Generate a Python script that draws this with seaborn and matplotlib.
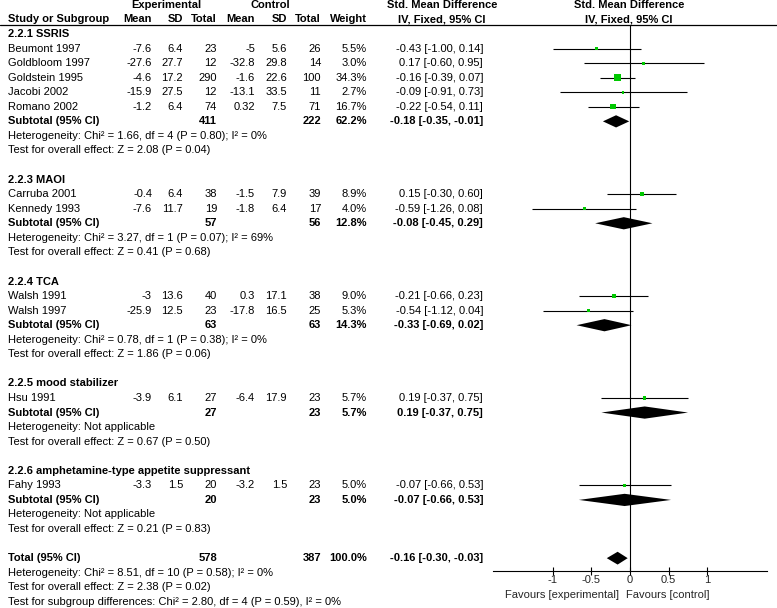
import matplotlib
matplotlib.use("Agg")
import matplotlib.pyplot as plt
import matplotlib.transforms as mtrans
import seaborn as sns
import pandas as pd

# forest plot of std. mean differences, fixed effect
studies = ["Beumont 1997", "Goldbloom 1997", "Goldstein 1995", "Jacobi 2002", "Romano 2002",
           "Carruba 2001", "Kennedy 1993", "Walsh 1991", "Walsh 1997", "Hsu 1991", "Fahy 1993"]
group_of = [0, 0, 0, 0, 0, 1, 1, 2, 2, 3, 4]
exp_mean = [-7.6, -27.6, -4.6, -15.9, -1.2, -0.4, -7.6, -3, -25.9, -3.9, -3.3]
exp_sd = [6.4, 27.7, 17.2, 27.5, 6.4, 6.4, 11.7, 13.6, 12.5, 6.1, 1.5]
exp_n = [23, 12, 290, 12, 74, 38, 19, 40, 23, 27, 20]
ctl_mean = [-5, -32.8, -1.6, -13.1, 0.32, -1.5, -1.8, 0.3, -17.8, -6.4, -3.2]
ctl_sd = [5.6, 29.8, 22.6, 33.5, 7.5, 7.9, 6.4, 17.1, 16.5, 17.9, 1.5]
ctl_n = [26, 14, 100, 11, 71, 39, 17, 38, 25, 23, 23]
weight = [5.5, 3.0, 34.3, 2.7, 16.7, 8.9, 4.0, 9.0, 5.3, 5.7, 5.0]
smd = [-0.43, 0.17, -0.16, -0.09, -0.22, 0.15, -0.59, -0.21, -0.54, 0.19, -0.07]
ci_lo = [-1.00, -0.60, -0.39, -0.91, -0.54, -0.30, -1.26, -0.66, -1.12, -0.37, -0.66]
ci_hi = [0.14, 0.95, 0.07, 0.73, 0.11, 0.60, 0.08, 0.23, 0.04, 0.75, 0.53]

groups = ["2.2.1 SSRIS", "2.2.3 MAOI", "2.2.4 TCA", "2.2.5 mood stabilizer",
          "2.2.6 amphetamine-type appetite suppressant"]
sub_exp_n = [411, 57, 63, 27, 20]
sub_ctl_n = [222, 56, 63, 23, 23]
sub_weight = [62.2, 12.8, 14.3, 5.7, 5.0]
sub_smd = [-0.18, -0.08, -0.33, 0.19, -0.07]
sub_lo = [-0.35, -0.45, -0.69, -0.37, -0.66]
sub_hi = [-0.01, 0.29, 0.02, 0.75, 0.53]
sub_het = ["Heterogeneity: Chi² = 1.66, df = 4 (P = 0.80); I² = 0%",
           "Heterogeneity: Chi² = 3.27, df = 1 (P = 0.07); I² = 69%",
           "Heterogeneity: Chi² = 0.78, df = 1 (P = 0.38); I² = 0%",
           "Heterogeneity: Not applicable",
           "Heterogeneity: Not applicable"]
sub_z = ["Test for overall effect: Z = 2.08 (P = 0.04)",
         "Test for overall effect: Z = 0.41 (P = 0.68)",
         "Test for overall effect: Z = 1.86 (P = 0.06)",
         "Test for overall effect: Z = 0.67 (P = 0.50)",
         "Test for overall effect: Z = 0.21 (P = 0.83)"]

total_exp_n, total_ctl_n, total_weight = 578, 387, 100.0
total_smd, total_lo, total_hi = -0.16, -0.30, -0.03
total_notes = ["Heterogeneity: Chi² = 8.51, df = 10 (P = 0.58); I² = 0%",
               "Test for overall effect: Z = 2.38 (P = 0.02)",
               "Test for subgroup differences: Chi² = 2.80, df = 4 (P = 0.59), I² = 0%"]

ticks = [-1, -0.5, 0, 0.5, 1]
tick_labels = ["-1", "-0.5", "0", "0.5", "1"]

sns.set_theme(style="white")
plt.rcParams["font.family"] = ["Liberation Sans", "DejaVu Sans"]
FS = 8.0
W, H = 777, 608
fig = plt.figure(figsize=(W / 100, H / 100), dpi=100)

# forest axes: x in SMD units, y in row index
ROW0, STEP = 34, 14.56
ax = fig.add_axes([493 / W, 0, 274 / W, 1])
ax.set_xlim(-1.77, 1.77)
ax.set_ylim((H - ROW0) / STEP, -ROW0 / STEP)
ax.patch.set_alpha(0)
tr = mtrans.blended_transform_factory(fig.transFigure, ax.transData)


def txt(xpx, row, s, ha="right", bold=False):
    ax.text(xpx / W, row, s, transform=tr, ha=ha, va="center", fontsize=FS,
            fontweight="bold" if bold else "normal", color="black", clip_on=False)


def fmt(v):
    return "%g" % v


def ci(m, lo, hi):
    return "%.2f [%.2f, %.2f]" % (m, lo, hi)


def diamond(m, lo, hi, row, h=0.42):
    ax.fill([lo, m, hi, m], [row, row - h, row, row + h], color="black", lw=0)


# build the rows
rows = []
r = 0
for g in range(len(groups)):
    txt(8, r, groups[g], ha="left", bold=True)
    r += 1
    for i in [k for k in range(len(studies)) if group_of[k] == g]:
        txt(8, r, studies[i], ha="left")
        txt(152, r, fmt(exp_mean[i]))
        txt(183, r, fmt(exp_sd[i]))
        txt(217, r, str(exp_n[i]))
        txt(255, r, fmt(ctl_mean[i]))
        txt(287, r, fmt(ctl_sd[i]))
        txt(321, r, str(ctl_n[i]))
        txt(367, r, "%.1f%%" % weight[i])
        txt(483, r, ci(smd[i], ci_lo[i], ci_hi[i]))
        rows.append(dict(row=r, smd=smd[i], lo=ci_lo[i], hi=ci_hi[i], w=weight[i]))
        r += 1
    txt(8, r, "Subtotal (95% CI)", ha="left", bold=True)
    txt(217, r, str(sub_exp_n[g]), bold=True)
    txt(321, r, str(sub_ctl_n[g]), bold=True)
    txt(367, r, "%.1f%%" % sub_weight[g], bold=True)
    txt(483, r, ci(sub_smd[g], sub_lo[g], sub_hi[g]), bold=True)
    diamond(sub_smd[g], sub_lo[g], sub_hi[g], r)
    txt(8, r + 1, sub_het[g], ha="left")
    txt(8, r + 2, sub_z[g], ha="left")
    r += 4

txt(8, r, "Total (95% CI)", ha="left", bold=True)
txt(217, r, str(total_exp_n), bold=True)
txt(321, r, str(total_ctl_n), bold=True)
txt(367, r, "%.1f%%" % total_weight, bold=True)
txt(483, r, ci(total_smd, total_lo, total_hi), bold=True)
diamond(total_smd, total_lo, total_hi, r, h=0.44)
for k, note in enumerate(total_notes):
    txt(8, r + 1 + k, note, ha="left")
axis_row = r + 0.9

df = pd.DataFrame(rows)
ax.hlines(df["row"], df["lo"], df["hi"], color="black", lw=0.8)
sns.scatterplot(data=df, x="smd", y="row", size="w", sizes=(2.0, 2.0 + 0.7 * 34.3),
                size_norm=(0, 34.3), marker="s", color="#00c800", linewidth=0,
                legend=False, ax=ax, zorder=3)

# headers
hdr_top, hdr_bot = -1.99, -1.03
txt(166, hdr_top, "Experimental", ha="center", bold=True)
txt(270, hdr_top, "Control", ha="center", bold=True)
txt(442, hdr_top, "Std. Mean Difference", ha="center", bold=True)
txt(629, hdr_top, "Std. Mean Difference", ha="center", bold=True)
txt(8, hdr_bot, "Study or Subgroup", ha="left", bold=True)
for xpx, s in [(152, "Mean"), (183, "SD"), (217, "Total"), (255, "Mean"),
               (287, "SD"), (321, "Total"), (367, "Weight")]:
    txt(xpx, hdr_bot, s, bold=True)
txt(442, hdr_bot, "IV, Fixed, 95% CI", ha="center", bold=True)
txt(629, hdr_bot, "IV, Fixed, 95% CI", ha="center", bold=True)
line_row = -0.62
ax.plot([0, 1], [line_row, line_row], transform=tr, color="black", lw=0.9, clip_on=False)

# zero line and axis
ax.vlines(0, line_row, axis_row, color="black", lw=0.8)
for s in ["top", "left", "right"]:
    ax.spines[s].set_visible(False)
ax.spines["bottom"].set_position(("data", axis_row))
ax.spines["bottom"].set_color("black")
ax.spines["bottom"].set_linewidth(0.8)
ax.set_yticks([])
ax.set_xticks(ticks)
ax.set_xticklabels(tick_labels)
ax.tick_params(axis="x", direction="inout", length=6, width=0.8, color="black",
               labelsize=FS, pad=0, bottom=True)
ax.set_xlabel("")
ax.set_ylabel("")
ax.text(-0.14, axis_row + 1.6, "Favours [experimental]", ha="right", va="center", fontsize=FS)
ax.text(-0.05, axis_row + 1.6, "Favours [control]", ha="left", va="center", fontsize=FS)

fig.savefig("out.png", dpi=100)
